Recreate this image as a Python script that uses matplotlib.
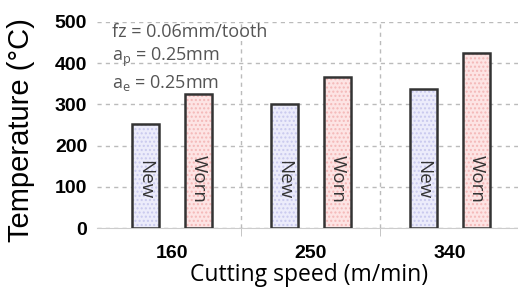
import matplotlib.pyplot as plt
import numpy as np

# Cutting temperature, new vs worn tool
speeds = ["160", "250", "340"]
new_temp = [253, 300, 337]
worn_temp = [325, 367, 424]
bar_names = ["New", "Worn"]
conditions = ["fz = 0.06mm/tooth",
              "a$_\\mathregular{p}$ = 0.25mm",
              "a$_\\mathregular{e}$ = 0.25mm"]

fig = plt.figure(figsize=(5.18, 2.88), dpi=100)
ax = fig.add_axes([0.187, 0.208, 0.813, 0.716])

x = np.arange(len(speeds))
w = 0.19
off = 0.19
styles = [("#ececfb", "#c9c9ee"), ("#fde4e4", "#f4b8b8")]

for i, vals in enumerate([new_temp, worn_temp]):
    pos = x + (i * 2 - 1) * off
    face, dots = styles[i]
    ax.bar(pos, vals, width=w, color=face, edgecolor=dots, hatch="....",
           linewidth=0, zorder=2)
    ax.bar(pos, vals, width=w, fill=False, edgecolor="#333333",
           linewidth=1.8, zorder=3)
    for p in pos:
        ax.text(p, 118, bar_names[i], rotation=270, ha="center", va="center",
                fontsize=13.5, family="Open Sans", color="#333333", zorder=4)

ax.set_ylim(0, 500)
ax.set_xlim(-0.54, 2.49)
ax.set_yticks(range(0, 501, 100))
ax.set_xticks(x)
ax.set_xticklabels(speeds)
ax.set_xticks([0.5, 1.5], minor=True)
ax.tick_params(axis="y", length=0, pad=7, labelsize=14)
ax.tick_params(axis="x", which="major", length=0, pad=12, labelsize=14)
ax.tick_params(axis="x", which="minor", length=6, color="#bbbbbb")
for lab in ax.get_xticklabels() + ax.get_yticklabels():
    lab.set_family("Liberation Sans")
    lab.set_fontweight("bold")

ax.grid(axis="y", linestyle=(0, (3, 3)), color="#bbbbbb", linewidth=1, zorder=0)
ax.grid(axis="x", which="minor", linestyle=(0, (3, 3)), color="#bbbbbb",
        linewidth=1, zorder=0)
for s in ["top", "right", "left"]:
    ax.spines[s].set_visible(False)
ax.spines["bottom"].set_color("#cccccc")

fig.text(0.041, 0.55, "Temperature (°C)", fontsize=21, family="Liberation Sans",
         rotation=90, ha="center", va="center")
fig.text(0.597, 0.024, "Cutting speed (m/min)", fontsize=16.5, family="Open Sans",
         ha="center", va="baseline")

for k, t in enumerate(conditions):
    ax.text(0.035, 0.951 - k * 0.123, t, transform=ax.transAxes, ha="left",
            va="center", fontsize=13, family="Open Sans", color="#555555")

fig.savefig("out.png", dpi=100)
